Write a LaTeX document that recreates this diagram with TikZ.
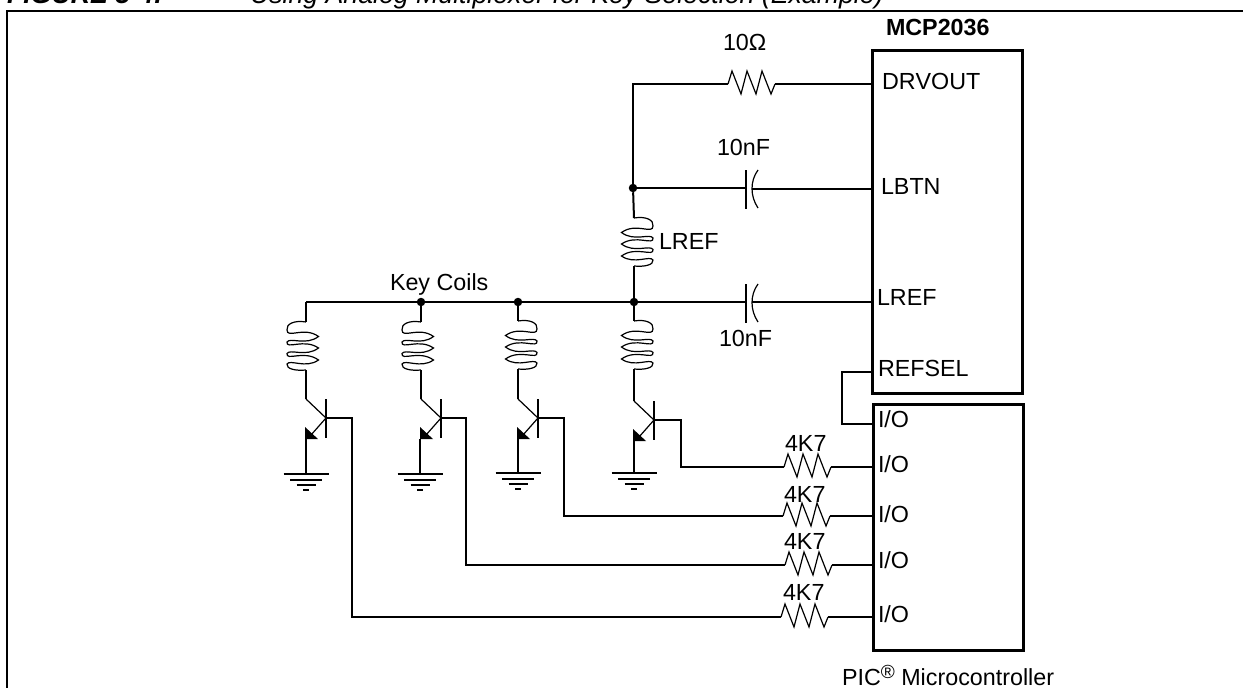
\documentclass[tikz,border=0pt]{standalone}
\usepackage{fontspec}
\setmainfont[Kerning=Off]{Liberation Sans}
\tikzset{
  wire/.style={line width=2pt,line cap=butt,line join=miter},
  thinw/.style={line width=1.2pt},
  lbl/.style={anchor=base west,inner sep=0pt,outer sep=0pt,font=\fontsize{23.3}{23.3}\selectfont},
  chip/.style={draw,line width=3pt,inner sep=0pt,outer sep=0pt,rectangle},
  dot/.style={circle,fill=black,inner sep=0pt,outer sep=0pt,minimum size=8.5pt}
}
\newcommand{\rescoil}[4]{% name, x, top, side
  \coordinate (#1-t) at (#2,#3);
  \coordinate (#1-b) at (#2,#3+48);
  \begin{scope}[shift={(#2,#3)},xscale=#4]
    \draw[thinw] (0,0) .. controls (12,-2) and (20,2) .. (19,8)
      .. controls (19,17) and (2,4) .. (-12.5,14.5)
      .. controls (0,24) and (16,15) .. (19,20)
      .. controls (20,28) and (2,16) .. (-12.5,26)
      .. controls (0,35.5) and (16,26.5) .. (19,31.5)
      .. controls (20,39.5) and (2,27.5) .. (-12.5,38)
      .. controls (0,47) and (16,37) .. (19,42)
      .. controls (20,47) and (10,49) .. (0,48);
  \end{scope}}
\newcommand{\npnq}[3]{% name, x, base y
  \coordinate (#1-c) at (#2,#3-19);
  \coordinate (#1-b) at (#2+20,#3);
  \coordinate (#1-e) at (#2,#3+21);
  \draw[thinw] (#1-c) -- (#1-b) -- (#2+5,#3+17);
  \draw[line width=2pt] (#2+20,#3-19) -- (#2+20,#3+20);
  \fill (#2-1,#3+9) -- (#2-1,#3+21) -- (#2+12,#3+21) -- cycle;}
\newcommand{\gndsym}[3]{% name, x, y
  \coordinate (#1) at (#2,#3);
  \draw[wire] (#2-22.5,#3) -- (#2+22.5,#3);
  \draw[wire] (#2-16,#3+6) -- (#2+16,#3+6);
  \draw[wire] (#2-9.5,#3+11) -- (#2+9.5,#3+11);
  \draw[wire] (#2-3,#3+16) -- (#2+3,#3+16);}
\newcommand{\resz}[3]{% name, x, y
  \coordinate (#1-l) at (#2,#3);
  \coordinate (#1-r) at (#2+47,#3);
  \draw[thinw] (#1-l) -- ++(4,-13) -- ++(9,23) -- ++(6,-23) -- ++(9,23) -- ++(6,-23) -- ++(9,23) -- (#1-r);}
\begin{document}
\begin{tikzpicture}[x=1pt,y=-1pt]
\useasboundingbox (0,0) rectangle (1243,688);
\clip (0,0) rectangle (1243,688);
% title, cut by the top of the picture
\node[lbl,font=\fontsize{26.7}{26.7}\selectfont\bfseries\itshape] (figno) at (7,3) {FIGURE 5-4:};
\node[lbl,font=\fontsize{26.7}{26.7}\selectfont\itshape] (title) at (250,3) {Using Analog Multiplexer for Key Selection (Example)};
% frame
\draw[line width=2.5pt] (7,688) -- (7,11) -- (1243,11);
% chips
\node[chip,minimum width=150pt,minimum height=343pt] (mcp) at (947,221.5) {};
\node[chip,minimum width=150pt,minimum height=246pt] (pic) at (948,527) {};
% junctions
\coordinate (jtop) at (633,84);
\node[dot] (j1) at (633,188) {};
\node[dot] (j2) at (634,302) {};
\node[dot] (j3) at (518,302) {};
\node[dot] (j4) at (421,302) {};
\coordinate (j5) at (306,302);
% resistors
\resz{r0}{728}{84}
\resz{r1}{784}{467}
\resz{r2}{783}{516}
\resz{r3}{785}{565}
\resz{r4}{781}{617}
% capacitors
\coordinate (c1a) at (746,188); \coordinate (c1b) at (752,189);
\coordinate (c2a) at (746,302); \coordinate (c2b) at (752,302);
\draw[wire] (746,170) -- (746,209);
\draw[thinw] (758,170) .. controls (750,181) and (750,196) .. (758,208);
\draw[wire] (746,284) -- (746,323);
\draw[thinw] (758,284) .. controls (750,295) and (750,310) .. (758,322);
% coils
\rescoil{lr}{634}{218}{1}
\rescoil{k1}{306}{322}{-1}
\rescoil{k2}{421}{322}{-1}
\rescoil{k3}{518}{321}{1}
\rescoil{k4}{634}{321}{1}
% transistors
\npnq{q1}{306}{418}
\npnq{q2}{421}{418}
\npnq{q3}{518}{418}
\npnq{q4}{634}{420}
% grounds
\gndsym{g1}{306}{474}
\gndsym{g2}{420}{474}
\gndsym{g3}{518}{473}
\gndsym{g4}{634}{473}
% wires
\draw[wire] (mcp.west |- r0-r) -- (r0-r);
\draw[wire] (r0-l) -- (jtop) -- (j1);
\draw[wire] (j1) -- (lr-t);
\draw[wire] (lr-b) -- (j2);
\draw[wire] (j1) -- (c1a);
\draw[wire] (c1b) -- (c1b -| mcp.west);
\draw[wire] (j5) -- (c2a);
\draw[wire] (c2b) -- (c2b -| mcp.west);
\draw[wire] (j5) -- (k1-t);
\draw[wire] (j4) -- (k2-t);
\draw[wire] (j3) -- (k3-t);
\draw[wire] (j2) -- (k4-t);
\draw[wire] (k1-b) -- (q1-c);
\draw[wire] (k2-b) -- (q2-c);
\draw[wire] (k3-b) -- (q3-c);
\draw[wire] (k4-b) -- (q4-c);
\draw[wire] (q1-e) -- (g1);
\draw[wire] (q2-e) ++(-1,0) -- (g2);
\draw[wire] (q3-e) -- (g3);
\draw[wire] (q4-e) -- (g4);
\draw[wire] (q4-b) -- ++(27,0) |- (r1-l);
\draw[wire] (q3-b) -- ++(26,0) |- (r2-l);
\draw[wire] (q2-b) -- ++(25,0) |- (r3-l);
\draw[wire] (q1-b) -- ++(26,0) |- (r4-l);
\draw[wire] (r1-r) -- (r1-r -| pic.west);
\draw[wire] (r2-r) -- (r2-r -| pic.west);
\draw[wire] (r3-r) -- (r3-r -| pic.west);
\draw[wire] (r4-r) -- (r4-r -| pic.west);
\coordinate (pa) at (872,372);
\coordinate (pb) at (873,424);
\draw[wire] (pa) -- (842,372) -- (842,424) -- (pb);
% labels
\node[lbl,font=\fontsize{23.3}{23.3}\selectfont\bfseries] (tmcp) at (886,35) {MCP2036};
\node[lbl] (t10r) at (723,50) {10Ω};
\node[lbl] (t10n) at (717,155) {10nF};
\node[lbl] (tdrv) at (882,89) {DRVOUT};
\node[lbl] (tlbtn) at (881,194) {LBTN};
\node[lbl] (tlr1) at (659,249) {LREF};
\node[lbl] (tlr2) at (877,305) {LREF};
\node[lbl] (t10n2) at (719,346) {10nF};
\node[lbl] (tkey) at (390,290) {Key Coils};
\node[lbl] (tsel) at (878,376) {REFSEL};
\node[lbl] (io1) at (878,427) {I/O};
\node[lbl] (io2) at (878,472) {I/O};
\node[lbl] (io3) at (878,522) {I/O};
\node[lbl] (io4) at (878,568) {I/O};
\node[lbl] (io5) at (878,622) {I/O};
\node[lbl] (k47a) at (785,451) {4K7};
\node[lbl] (k47b) at (784,502) {4K7};
\node[lbl] (k47c) at (784,549) {4K7};
\node[lbl] (k47d) at (783,600) {4K7};
\node[lbl] (tpic) at (842,685) {PIC\raisebox{7pt}{\fontsize{19}{19}\selectfont ®} Microcontroller};
\end{tikzpicture}
\end{document}
